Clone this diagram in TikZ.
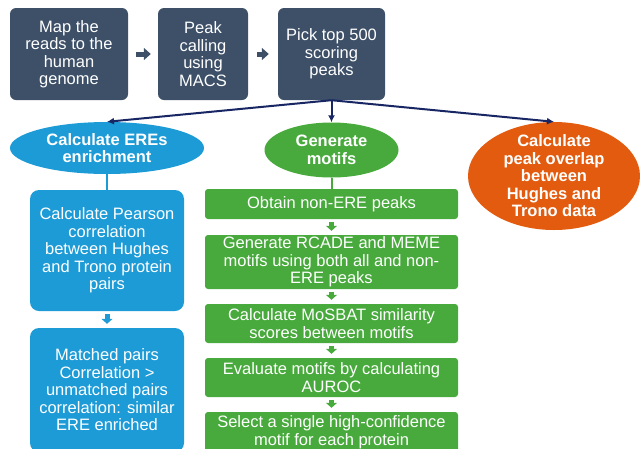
\documentclass[tikz,border=0pt]{standalone}
\usepackage{fontspec}
\setmainfont{Liberation Sans}
\usetikzlibrary{arrows.meta,shapes.geometric}

\definecolor{slate}{RGB}{61,80,104}
\definecolor{skyblue}{RGB}{29,155,214}
\definecolor{leafgreen}{RGB}{72,170,60}
\definecolor{burnt}{RGB}{226,91,14}
\definecolor{navy}{RGB}{24,38,100}

\tikzset{
  stepbox/.style={rectangle, rounded corners=6pt, text=white, align=center, inner sep=0pt,
    font=\fontsize{16.5}{17.5}\selectfont},
  oval/.style={ellipse, inner sep=0pt},
  ovaltext/.style={text=white, align=center, font=\bfseries\fontsize{16.5}{17.5}\selectfont},
  blockarrow/.style={line width=5pt, -{Triangle[length=7pt,width=12pt]}},
  downarrow/.style={line width=5pt, -{Triangle[length=5pt,width=11pt]}, shorten <=3pt, shorten >=4pt},
  fan/.style={navy, line width=2pt, -{Latex[length=7pt,width=7pt]}},
}

\begin{document}
\begin{tikzpicture}[>=Stealth, x=1pt, y=-1pt]
    \useasboundingbox (0,0) rectangle (640,448);

    % pipeline along the top
    \node[stepbox, fill=slate, minimum width=118pt, minimum height=92pt] (map) at (69,54) {Map the\\reads to the\\human\\genome};
    \node[stepbox, fill=slate, minimum width=90pt, minimum height=92pt] (peak) at (203,54) {Peak\\calling\\using\\MACS};
    \node[stepbox, fill=slate, minimum width=107pt, minimum height=92pt] (pick) at (331.5,54) {Pick top 500\\scoring\\peaks};
    \draw[blockarrow, slate, shorten <=8pt, shorten >=7pt] (map) -- (peak);
    \draw[blockarrow, slate, shorten <=9pt, shorten >=9pt] (peak) -- (pick);

    % three analyses
    \node[oval, fill=skyblue, minimum width=194pt, minimum height=52pt,
      label={[ovaltext]center:{Calculate EREs\\enrichment}}] (ere) at (107,148) {};
    \node[oval, fill=leafgreen, minimum width=134pt, minimum height=55pt,
      label={[ovaltext]center:{Generate\\motifs}}] (motifs) at (331.5,150) {};
    \node[oval, fill=burnt, minimum width=172pt, minimum height=108pt,
      label={[ovaltext]center:{Calculate\\peak overlap\\between\\Hughes and\\Trono data}}] (overlap) at (554,176) {};
    \draw[fan] (pick.south) -- (ere.north);
    \draw[fan] (pick.south) -- (motifs.north);
    \draw[fan] (pick.south) -- (overlap.north);

    % ERE enrichment branch
    \node[stepbox, fill=skyblue, rounded corners=9pt, minimum width=154pt, minimum height=121pt] (pearson) at (107,250.5) {Calculate Pearson\\correlation\\between Hughes\\and Trono protein\\pairs};
    \node[stepbox, fill=skyblue, rounded corners=9pt, minimum width=154pt, minimum height=124pt] (matched) at (107,390) {Matched pairs\\Correlation >\\unmatched pairs\\correlation: similar\\ERE enriched};
    \draw[skyblue, line width=2pt] (ere) -- (pearson);
    \draw[downarrow, skyblue] (pearson) -- (matched);

    % motif branch
    \node[stepbox, fill=leafgreen, rounded corners=3pt, minimum width=253pt, minimum height=30pt] (nonere) at (331.5,204) {Obtain non-ERE peaks};
    \node[stepbox, fill=leafgreen, rounded corners=3pt, minimum width=253pt, minimum height=54pt] (rcade) at (331.5,262) {Generate RCADE and MEME\\motifs using both all and non-\\ERE peaks};
    \node[stepbox, fill=leafgreen, rounded corners=3pt, minimum width=253pt, minimum height=39pt] (mosbat) at (331.5,323.5) {Calculate MoSBAT similarity\\scores between motifs};
    \node[stepbox, fill=leafgreen, rounded corners=3pt, minimum width=253pt, minimum height=39pt] (auroc) at (331.5,377.5) {Evaluate motifs by calculating\\AUROC};
    \node[stepbox, fill=leafgreen, rounded corners=3pt, minimum width=253pt, minimum height=40pt] (select) at (331.5,432) {Select a single high-confidence\\motif for each protein};
    \draw[leafgreen, line width=2pt] (motifs) -- (nonere);
    \draw[downarrow, leafgreen] (nonere) -- (rcade);
    \draw[downarrow, leafgreen] (rcade) -- (mosbat);
    \draw[downarrow, leafgreen] (mosbat) -- (auroc);
    \draw[downarrow, leafgreen] (auroc) -- (select);
\end{tikzpicture}
\end{document}
